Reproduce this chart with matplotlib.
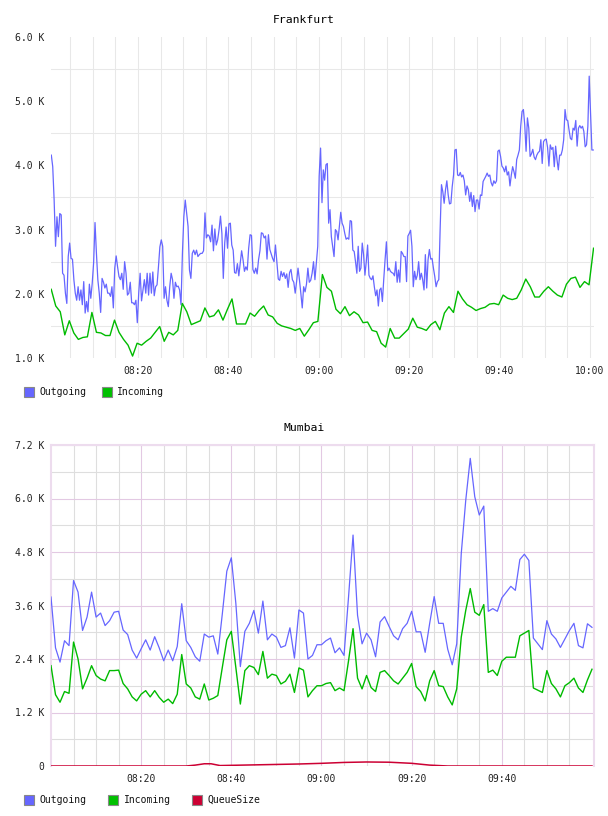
import matplotlib
matplotlib.use("Agg")
import matplotlib.pyplot as plt
from matplotlib.patches import Rectangle
import numpy as np

# ---------------- data (values in thousands) ----------------
# Frankfurt outgoing, sampled ~every 18 s; first half 08:00:49-09:00:43, second half 09:01:00-10:00:44
fra_out_a = [
    4.16, 3.98, 3.46, 2.74, 3.20, 2.89, 3.25, 3.23, 2.32, 2.29,
    2.01, 1.85, 2.58, 2.79, 2.55, 2.54, 2.22, 2.01, 1.90, 2.11,
    1.90, 2.06, 1.83, 2.19, 1.70, 1.88, 1.72, 2.15, 1.93, 2.16,
    2.48, 3.11, 2.63, 2.22, 2.01, 1.71, 2.24, 2.18, 2.09, 2.15,
    2.01, 2.01, 1.96, 2.11, 1.78, 2.40, 2.59, 2.42, 2.27, 2.22,
    2.32, 2.07, 2.50, 2.32, 1.98, 2.01, 2.18, 1.86, 1.86, 1.83,
    1.90, 1.55, 2.01, 2.32, 1.89, 2.06, 2.22, 2.01, 2.32, 1.98,
    2.32, 2.01, 2.34, 1.97, 2.11, 2.14, 2.42, 2.73, 2.84, 2.74,
    1.93, 2.11, 1.90, 1.80, 2.11, 2.32, 2.22, 1.93, 2.18, 2.11,
    2.12, 2.06, 1.83, 2.63, 3.20, 3.46, 3.26, 3.05, 2.37, 2.24,
    2.63, 2.68, 2.61, 2.68, 2.58, 2.61, 2.63, 2.63, 2.67, 3.26,
    2.87, 2.92, 2.90, 2.81, 3.07, 2.67, 3.01, 2.76, 2.84, 3.00,
    3.21, 2.94, 2.24, 2.79, 3.04, 2.71, 3.09, 3.10, 2.76, 2.68,
    2.33, 2.32, 2.47, 2.28, 2.48, 2.67, 2.53, 2.35, 2.42, 2.37,
    2.71, 2.92, 2.91, 2.38, 2.32, 2.40, 2.31, 2.53, 2.67, 2.95,
    2.94, 2.87, 2.90, 2.54, 2.92, 2.69, 2.62, 2.55, 2.50, 2.76,
    2.50, 2.23, 2.21, 2.35, 2.27, 2.33, 2.24, 2.31, 2.10, 2.33,
    2.38, 2.22, 2.18, 2.01, 2.19, 2.40, 2.22, 2.01, 1.78, 2.11,
    2.03, 2.15, 2.40, 2.18, 2.21, 2.32, 2.50, 2.22, 2.48, 2.74,
    3.83, 4.27, 3.42,
]
fra_out_b = [
    3.93, 3.77, 4.01, 4.03, 3.10, 3.31, 2.89, 2.74, 2.58, 3.00,
    2.97, 2.84, 3.05, 3.27, 3.10, 3.05, 2.94, 2.85, 2.87, 2.85,
    3.14, 3.13, 2.68, 2.66, 2.50, 2.32, 2.74, 2.35, 2.40, 2.79,
    2.61, 2.29, 2.50, 2.76, 2.29, 2.24, 2.22, 2.28, 2.11, 1.97,
    2.06, 1.81, 2.06, 2.09, 1.88, 2.22, 2.53, 2.81, 2.36, 2.40,
    2.35, 2.33, 2.32, 2.28, 2.50, 2.18, 2.37, 2.18, 2.66, 2.63,
    2.58, 2.58, 2.19, 2.90, 2.94, 2.99, 2.74, 2.11, 2.35, 2.22,
    2.29, 2.50, 2.22, 2.32, 2.22, 2.06, 2.61, 2.09, 2.53, 2.69,
    2.54, 2.55, 2.40, 2.27, 2.11, 2.19, 2.22, 3.00, 3.70, 3.59,
    3.41, 3.62, 3.76, 3.54, 3.40, 3.41, 3.67, 3.85, 4.24, 4.25,
    3.85, 3.84, 3.89, 3.82, 3.85, 3.76, 3.54, 3.68, 3.62, 3.44,
    3.58, 3.36, 3.53, 3.28, 3.46, 3.46, 3.32, 3.54, 3.53, 3.75,
    3.79, 3.83, 3.88, 3.83, 3.85, 3.73, 3.68, 3.76, 3.72, 3.76,
    4.22, 4.24, 4.14, 3.99, 3.96, 3.90, 3.99, 3.85, 3.90, 3.68,
    3.85, 3.98, 3.90, 3.80, 4.09, 4.16, 4.24, 4.61, 4.84, 4.87,
    4.63, 4.22, 4.74, 4.58, 4.14, 4.18, 4.25, 4.13, 4.09, 4.16,
    4.20, 4.22, 4.40, 4.03, 4.37, 4.40, 4.41, 4.28, 3.99, 4.32,
    4.25, 4.28, 3.98, 4.30, 4.09, 3.93, 4.16, 4.16, 4.24, 4.40,
    4.87, 4.71, 4.70, 4.55, 4.42, 4.40, 4.58, 4.55, 4.70, 4.30,
    4.58, 4.62, 4.58, 4.61, 4.53, 4.29, 4.32, 4.61, 5.39, 4.81,
    4.24, 4.24,
]
# Frankfurt incoming, one sample a minute from 08:00:48
fra_in = [
    2.07, 1.81, 1.72, 1.36, 1.58, 1.39, 1.29, 1.32, 1.33, 1.71,
    1.40, 1.39, 1.35, 1.35, 1.59, 1.40, 1.29, 1.20, 1.03, 1.23,
    1.20, 1.26, 1.31, 1.40, 1.49, 1.26, 1.40, 1.36, 1.43, 1.85,
    1.72, 1.52, 1.55, 1.58, 1.78, 1.64, 1.66, 1.75, 1.59, 1.76,
    1.92, 1.53, 1.53, 1.53, 1.70, 1.65, 1.74, 1.81, 1.67, 1.64,
    1.54, 1.50, 1.48, 1.46, 1.43, 1.46, 1.34, 1.44, 1.55, 1.57,
    2.30, 2.10, 2.04, 1.76, 1.69, 1.80, 1.66, 1.72, 1.67, 1.55,
    1.56, 1.43, 1.41, 1.23, 1.17, 1.46, 1.31, 1.31, 1.38, 1.45,
    1.62, 1.48, 1.46, 1.43, 1.52, 1.57, 1.44, 1.70, 1.80, 1.71,
    2.04, 1.92, 1.83, 1.79, 1.74, 1.77, 1.79, 1.84, 1.85, 1.83,
    1.98, 1.93, 1.91, 1.93, 2.06, 2.23, 2.11, 1.95, 1.95, 2.04,
    2.11, 2.04, 1.98, 1.95, 2.15, 2.24, 2.26, 2.10, 2.19, 2.14,
    2.71,
]

# Mumbai, one sample a minute 08:00 - 10:00
mum_out = [
    3.79, 2.65, 2.33, 2.81, 2.70, 4.16, 3.90, 3.04, 3.34, 3.90,
    3.34, 3.43, 3.15, 3.26, 3.45, 3.47, 3.05, 2.95, 2.60, 2.42,
    2.63, 2.83, 2.60, 2.90, 2.65, 2.36, 2.60, 2.36, 2.68, 3.64,
    2.81, 2.66, 2.45, 2.35, 2.96, 2.89, 2.92, 2.51, 3.41, 4.37,
    4.67, 3.65, 2.23, 3.02, 3.20, 3.49, 2.98, 3.70, 2.83, 2.96,
    2.89, 2.66, 2.70, 3.10, 2.42, 3.50, 3.43, 2.40, 2.48, 2.72,
    2.72, 2.81, 2.87, 2.54, 2.65, 2.48, 3.79, 5.18, 3.38, 2.74,
    2.98, 2.83, 2.45, 3.23, 3.35, 3.13, 2.92, 2.83, 3.08, 3.20,
    3.47, 3.01, 3.01, 2.55, 3.20, 3.80, 3.20, 3.20, 2.62, 2.27,
    2.74, 4.76, 5.96, 6.90, 6.04, 5.63, 5.83, 3.47, 3.53, 3.47,
    3.77, 3.90, 4.03, 3.94, 4.63, 4.75, 4.61, 2.87, 2.74, 2.61,
    3.26, 2.96, 2.85, 2.66, 2.85, 3.04, 3.20, 2.70, 2.65, 3.19,
    3.11,
]
mum_in = [
    2.25, 1.60, 1.43, 1.67, 1.63, 2.78, 2.40, 1.73, 1.97, 2.25,
    2.03, 1.95, 1.91, 2.14, 2.14, 2.15, 1.85, 1.73, 1.55, 1.46,
    1.61, 1.69, 1.55, 1.69, 1.54, 1.43, 1.50, 1.40, 1.61, 2.50,
    1.84, 1.75, 1.55, 1.50, 1.84, 1.48, 1.52, 1.58, 2.21, 2.83,
    3.02, 2.21, 1.39, 2.14, 2.25, 2.21, 2.05, 2.57, 1.97, 2.06,
    2.03, 1.84, 1.90, 2.06, 1.65, 2.20, 2.15, 1.55, 1.69, 1.80,
    1.80, 1.85, 1.87, 1.69, 1.75, 1.69, 2.36, 3.08, 1.97, 1.73,
    2.03, 1.76, 1.67, 2.10, 2.14, 2.03, 1.91, 1.84, 1.97, 2.10,
    2.30, 1.78, 1.67, 1.46, 1.91, 2.14, 1.80, 1.78, 1.55, 1.37,
    1.73, 2.89, 3.49, 3.98, 3.45, 3.38, 3.62, 2.10, 2.15, 2.03,
    2.35, 2.44, 2.44, 2.44, 2.92, 2.98, 3.04, 1.75, 1.70, 1.65,
    2.14, 1.85, 1.73, 1.55, 1.80, 1.87, 1.97, 1.75, 1.65, 1.93,
    2.17,
]
mum_queue_t = [0, 30, 32, 34, 35.5, 37.5, 40, 45, 50, 55, 60, 65, 70, 75, 80, 84, 88, 120]
mum_queue = [0, 0, 0.02, 0.05, 0.05, 0.01, 0.015, 0.025, 0.035, 0.045,
             0.06, 0.08, 0.09, 0.085, 0.06, 0.02, 0, 0]

# x axis is minutes after 08:00
time_ticks = [20, 40, 60, 80, 100, 120]
time_labels = ["08:20", "08:40", "09:00", "09:20", "09:40", "10:00"]
fra_yticks = [1, 2, 3, 4, 5, 6]
fra_ylabels = ["1.0 K", "2.0 K", "3.0 K", "4.0 K", "5.0 K", "6.0 K"]
mum_yticks = [0, 1.2, 2.4, 3.6, 4.8, 6.0, 7.2]
mum_ylabels = ["0", "1.2 K", "2.4 K", "3.6 K", "4.8 K", "6.0 K", "7.2 K"]

BLUE = "#6666ff"
GREEN = "#00bb00"
RED = "#cc0033"
MONO = "DejaVu Sans Mono"

fra_t_a = np.linspace(0.82, 60.71, len(fra_out_a))
fra_t_b = np.linspace(61.0, 120.73, len(fra_out_b))
fra_t_out = np.concatenate([fra_t_a, fra_t_b])
fra_out = np.array(fra_out_a + fra_out_b)
fra_t_in = 0.8 + np.arange(len(fra_in))
mum_t = np.arange(len(mum_out))

W, H = 608, 816
fig = plt.figure(figsize=(W / 100, H / 100), dpi=100)


def px_axes(left, top, right, bottom):
    return fig.add_axes([left / W, 1 - bottom / H, (right - left) / W, (bottom - top) / H])


def style_ticks(ax):
    ax.tick_params(which="both", length=0, labelsize=7, labelcolor="#222222")
    ax.tick_params(axis="y", pad=5)
    ax.tick_params(axis="x", pad=6)
    for lab in ax.get_xticklabels() + ax.get_yticklabels():
        lab.set_family(MONO)


def legend(y, items):
    for x_sq, x_tx, label, color in items:
        fig.patches.append(Rectangle((x_sq / W, 1 - (y + 5) / H), 10 / W, 10 / H,
                                     transform=fig.transFigure, facecolor=color,
                                     edgecolor="#888888", lw=0.8))
        fig.text(x_tx / W, 1 - y / H, label, family=MONO, fontsize=7,
                 ha="left", va="center", color="#111111")


# ---------------- Frankfurt ----------------
ax1 = px_axes(51, 37, 594, 358)
ax1.plot(fra_t_out, fra_out, color=BLUE, lw=0.9, zorder=3)
ax1.plot(fra_t_in, fra_in, color=GREEN, lw=1.0, zorder=3)
ax1.set_xlim(0.75, 120.9)
ax1.set_ylim(1, 6)
ax1.set_yticks(fra_yticks, fra_ylabels)
ax1.set_yticks([1.5, 2.5, 3.5, 4.5, 5.5], minor=True)
ax1.set_xticks(time_ticks, time_labels)
ax1.set_xticks(np.arange(5, 121, 5), minor=True)
ax1.grid(axis="y", which="minor", color="#e8e8e8", lw=0.75)
ax1.grid(axis="x", which="both", color="#e8e8e8", lw=0.75)
ax1.set_axisbelow(True)
for s in ax1.spines.values():
    s.set_visible(False)
style_ticks(ax1)
fig.text(0.5, 1 - 20 / H, "Frankfurt", family=MONO, fontsize=8.2, ha="center", va="center")
legend(392, [(24, 39, "Outgoing", BLUE), (102, 117, "Incoming", "#00c000")])

# ---------------- Mumbai ----------------
ax2 = px_axes(51, 445, 594, 766)
ax2.plot(mum_t, mum_out, color=BLUE, lw=0.9, zorder=3)
ax2.plot(mum_t, mum_in, color=GREEN, lw=1.0, zorder=3)
ax2.plot(mum_queue_t, mum_queue, color=RED, lw=1.1, zorder=4)
ax2.set_xlim(0, 120.45)
ax2.set_ylim(0, 7.2)
ax2.set_yticks(mum_yticks, mum_ylabels)
ax2.set_yticks([0.6, 1.8, 3.0, 4.2, 5.4, 6.6], minor=True)
ax2.set_xticks(time_ticks[:5], time_labels[:5])
ax2.set_xticks([t for t in range(5, 120, 5) if t % 20], minor=True)
ax2.grid(which="major", color="#e3c9e3", lw=0.8)
ax2.grid(which="minor", color="#dedede", lw=0.8)
ax2.set_axisbelow(True)
for side in ["left", "right", "top"]:
    ax2.spines[side].set_color("#eddcee")
    ax2.spines[side].set_linewidth(1.5)
ax2.spines["bottom"].set_visible(False)
style_ticks(ax2)
fig.text(0.5, 1 - 428 / H, "Mumbai", family=MONO, fontsize=8.2, ha="center", va="center")
legend(800, [(24, 39, "Outgoing", BLUE), (108, 124, "Incoming", "#00c000"),
             (192, 207, "QueueSize", RED)])

fig.savefig("out.png", dpi=100, facecolor="white")
